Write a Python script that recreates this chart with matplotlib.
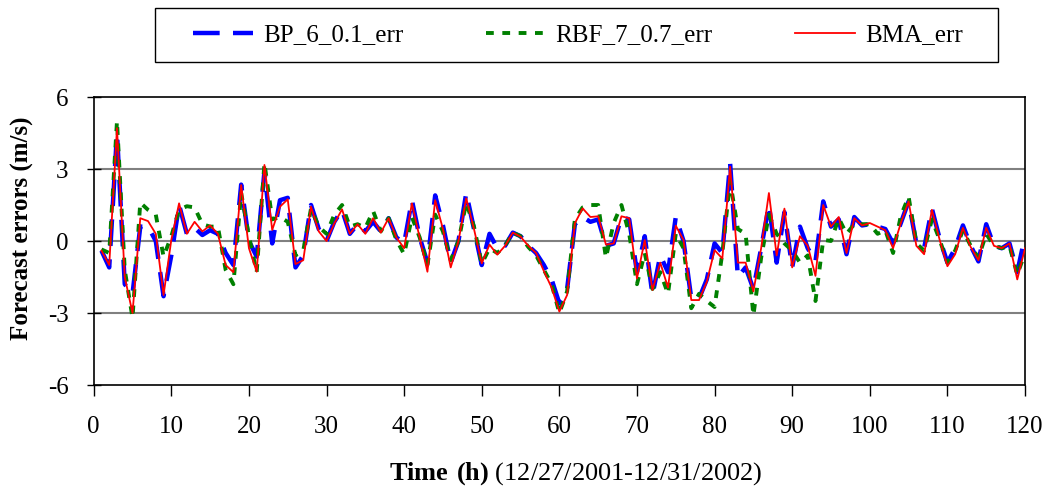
import numpy as np
import matplotlib
matplotlib.use("Agg")
from matplotlib import pyplot as plt
from matplotlib.patches import Rectangle

plt.rcParams['font.family'] = ['Liberation Serif', 'DejaVu Serif']
plt.rcParams['mathtext.fontset'] = 'custom'
plt.rcParams['mathtext.rm'] = 'Liberation Serif'
plt.rcParams['mathtext.bf'] = 'Liberation Serif:bold'

hours = np.arange(1, 121)

bp_err = [-0.4, -1.1, 4.5, -1.8, -2.2, 0.6, 0.6, 0.0, -2.3, -0.6,
          1.5, 0.3, 0.55, 0.25, 0.45, 0.3, -0.5, -1.0, 2.35, 0.0,
          -0.65, 2.9, -0.1, 1.7, 1.8, -1.1, -0.6, 1.5, 0.5, 0.0,
          0.8, 1.3, 0.3, 0.7, 0.4, 0.8, 0.4, 0.95, 0.15, -0.1,
          1.7, 0.15, -0.9, 1.9, 0.65, -0.9, 0.0, 2.0, 0.5, -1.0,
          0.3, -0.3, -0.2, 0.35, 0.2, -0.2, -0.5, -1.0, -1.6, -2.6,
          -2.0, 0.7, 1.0, 0.8, 0.9, -0.2, -0.1, 1.0, 0.9, -1.3,
          0.2, -2.25, -0.6, -1.3, 1.0, 0.0, -2.4, -2.4, -1.6, -0.1,
          -0.5, 3.25, -1.5, -1.1, -2.0, -0.3, 1.5, -0.9, 1.2, -1.1,
          0.6, -0.3, -0.85, 1.65, 0.6, 0.9, -0.55, 1.0, 0.65, 0.7,
          0.6, 0.5, -0.1, 0.75, 1.65, -0.1, -0.3, 1.35, 0.1, -0.9,
          -0.3, 0.65, -0.2, -0.85, 0.7, -0.2, -0.3, -0.1, -1.3, 0.2]

rbf_err = [-0.35, -0.5, 5.0, -1.2, -3.2, 1.6, 1.3, 1.1, -0.65, 0.2,
           1.3, 1.45, 1.4, 0.7, 0.6, 0.6, -1.2, -1.8, 2.0, 0.2,
           -1.3, 3.25, 0.9, 1.0, 0.8, -0.6, -0.4, 1.35, 0.6, 0.3,
           1.1, 1.5, 0.6, 0.7, 0.55, 1.25, 0.4, 0.95, 0.05, -0.55,
           1.0, 0.15, -1.0, 1.1, 0.4, -0.8, 0.0, 1.6, 0.6, -0.95,
           -0.3, -0.5, -0.2, 0.35, 0.2, -0.25, -0.6, -1.2, -1.8, -3.0,
           -2.1, 0.9, 1.4, 1.5, 1.5, -0.7, 0.75, 1.5, 0.3, -1.8,
           -0.5, -2.0, -1.3, -2.2, 0.3, -0.3, -2.8, -2.2, -2.5, -2.75,
           -0.5, 2.5, 0.5, 0.3, -3.1, -0.7, 1.1, 0.3, -0.1, -0.4,
           -0.9, -0.6, -2.5, 0.05, 0.0, 0.95, 0.3, 0.7, 0.7, 0.7,
           0.3, 0.45, -0.5, 1.05, 1.85, -0.1, -0.4, 0.9, 0.05, -0.9,
           -0.4, 0.45, -0.2, -0.7, 0.3, -0.2, -0.3, -0.2, -1.4, -0.5]

bma_err = [-0.4, -1.0, 4.7, -1.5, -3.0, 0.95, 0.83, 0.3, -2.25, 0.05,
           1.57, 0.3, 0.8, 0.4, 0.65, 0.3, -1.0, -1.3, 2.33, -0.3,
           -1.28, 3.17, 0.46, 1.43, 1.74, -0.96, -0.8, 1.43, 0.4, 0.0,
           0.73, 1.32, 0.3, 0.7, 0.3, 0.95, 0.35, 0.95, 0.15, -0.3,
           1.57, 0.14, -1.28, 1.7, 0.5, -1.1, 0.0, 1.78, 0.5, -0.93,
           -0.15, -0.57, -0.2, 0.35, 0.18, -0.2, -0.5, -1.25, -1.94, -2.94,
           -2.25, 0.74, 1.36, 1.0, 1.03, -0.15, -0.1, 1.03, 0.95, -1.56,
           0.04, -2.04, -0.9, -1.94, 0.64, 0.04, -2.46, -2.46, -1.7, -0.38,
           -0.73, 3.1, -0.9, -0.9, -2.1, -0.3, 2.0, -0.6, 1.35, -1.1,
           0.2, -0.2, -1.45, 1.5, 0.6, 1.0, -0.5, 0.95, 0.65, 0.75,
           0.6, 0.45, -0.3, 0.75, 1.65, -0.2, -0.55, 1.3, 0.05, -1.05,
           -0.55, 0.55, -0.25, -0.8, 0.55, -0.2, -0.3, -0.1, -1.6, -0.3]

xticks = np.arange(0, 121, 10)
yticks = [-6, -3, 0, 3, 6]

fig = plt.figure(figsize=(10.47, 4.87), dpi=100)
ax = fig.add_axes([0.0895, 0.2094, 0.8895, 0.5914])

ax.plot(hours, bp_err, color='#0000FF', lw=3.2, dashes=(6, 3), label='BP_6_0.1_err', zorder=3)
ax.plot(hours, rbf_err, color='#008000', lw=2.8, dashes=(2, 2.2), label='RBF_7_0.7_err', zorder=4)
ax.plot(hours, bma_err, color='#FF0000', lw=1.3, label='BMA_err', zorder=5)

ax.set_xlim(0, 120)
ax.set_ylim(-6, 6)
ax.set_xticks(xticks)
ax.set_yticks(yticks)
ax.set_yticklabels([str(t) for t in yticks])
for y in [-3, 0, 3]:
    ax.axhline(y, color='#808080', lw=1.5, zorder=1)
for s in ax.spines.values():
    s.set_color('black')
    s.set_linewidth(1.2)
ax.tick_params(axis='x', direction='out', length=8, width=1, labelsize=18, pad=14)
ax.tick_params(axis='y', direction='inout', length=10, width=1, labelsize=18, pad=13)

ax.set_ylabel('Forecast errors (m/s)', fontsize=18, fontweight='bold')
ax.set_xlabel(r'$\mathbf{Time\ (h)}$ (12/27/2001-12/31/2002)', fontsize=19)
ax.yaxis.set_label_coords(-0.064, 0.543)
ax.xaxis.set_label_coords(0.518, -0.26)

# legend box like the Excel one
fig.patches.append(Rectangle((155 / 1047, 1 - 62 / 487), 843 / 1047, 54 / 487,
                             transform=fig.transFigure, fill=False,
                             edgecolor='black', lw=1.0))
leg = fig.legend(loc='center', bbox_to_anchor=(578 / 1047, 1 - 35 / 487),
                 ncol=3, fontsize=18, handlelength=2.4, handletextpad=0.4,
                 columnspacing=3.3, frameon=False, borderaxespad=0)

fig.savefig('out.png', dpi=100)
